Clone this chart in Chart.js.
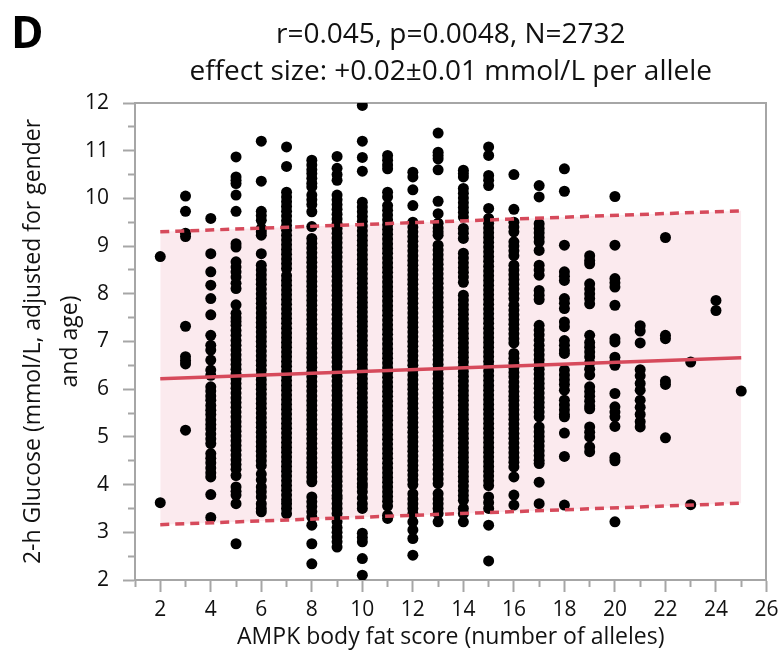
<!DOCTYPE html>
<html><head><meta charset="utf-8">
<script src="https://cdn.jsdelivr.net/npm/chart.js@4.4.1/dist/chart.umd.min.js"></script>
<style>html,body{margin:0;padding:0;background:#fff;}#wrap{width:784px;height:653px;position:relative;}</style>
</head><body><div id="wrap"><canvas id="c" width="784" height="653"></canvas></div>
<script>
// ---------- data ----------
const titleLines = ['r=0.045, p=0.0048, N=2732', 'effect size: +0.02\u00b10.01 mmol/L per allele'];
const panelLabel = 'D';
const xTitle = 'AMPK body fat score (number of alleles)';
const yTitle = ['2-h Glucose (mmol/L, adjusted for gender', 'and age)'];
const xTickLabels = [2,4,6,8,10,12,14,16,18,20,22,24,26];
const yTickLabels = [2,3,4,5,6,7,8,9,10,11,12];

const scores = [2,3,4,5,6,7,8,9,10,11,12,13,14,15,16,17,18,19,20,21,22,23,24,25];
const g2 = [8.78, 3.62];
const g3 = [10.05, 9.73, 9.27, 9.2, 7.32, 6.68, 6.6, 6.53, 5.14];
const g4 = [9.58, 8.84, 8.46, 8.18, 7.9, 7.56, 7.13, 6.92, 6.82, 6.61, 6.4, 6.29, 6.05, 5.96, 5.86, 5.77, 5.66, 5.56, 5.47, 5.36, 5.26, 5.17, 5.06, 4.96, 4.86, 4.65, 4.55, 4.46, 4.35, 4.25, 4.16, 3.79, 3.31];
const g5 = [10.87, 10.45, 10.38, 10.31, 10.07, 9.73, 9.05, 8.98, 8.67, 8.56, 8.46, 8.35, 8.22, 8.11, 7.77, 7.59, 7.5, 7.42, 7.34, 7.23, 7.13, 7.02, 6.92, 6.82, 6.72, 6.62, 6.52, 6.42, 6.32, 6.22, 6.12, 6.02, 5.92, 5.82, 5.72, 5.62, 5.52, 5.42, 5.32, 5.22, 5.12, 5.02, 4.92, 4.82, 4.72, 4.62, 4.52, 4.42, 4.32, 4.19, 3.95, 3.86, 3.78, 3.6, 2.76];
const g6 = [11.2, 10.36, 9.73, 9.64, 9.54, 9.37, 9.3, 9.23, 8.84, 8.6, 8.5, 8.4, 8.3, 8.2, 8.1, 8.0, 7.9, 7.8, 7.7, 7.6, 7.5, 7.4, 7.3, 7.2, 7.1, 7.0, 6.9, 6.8, 6.7, 6.6, 6.5, 6.4, 6.3, 6.2, 6.1, 6.0, 5.9, 5.8, 5.7, 5.6, 5.5, 5.4, 5.3, 5.2, 5.1, 5.0, 4.9, 4.8, 4.7, 4.6, 4.5, 4.4, 4.22, 4.1, 3.95, 3.85, 3.74, 3.6, 3.5, 3.43];
const g7 = [11.08, 10.67, 10.13, 10.03, 9.93, 9.83, 9.73, 9.63, 9.53, 9.43, 9.33, 9.23, 9.13, 9.03, 8.93, 8.83, 8.73, 8.63, 8.53, 8.38, 8.28, 8.18, 8.08, 7.98, 7.88, 7.78, 7.68, 7.58, 7.48, 7.38, 7.28, 7.18, 7.08, 6.98, 6.88, 6.78, 6.68, 6.58, 6.48, 6.38, 6.28, 6.18, 6.08, 5.98, 5.88, 5.78, 5.68, 5.58, 5.48, 5.38, 5.28, 5.18, 5.08, 4.98, 4.88, 4.78, 4.68, 4.58, 4.48, 4.38, 4.28, 4.18, 4.08, 3.98, 3.88, 3.78, 3.68, 3.6, 3.5, 3.39];
const g8 = [10.8, 10.7, 10.6, 10.52, 10.42, 10.32, 10.24, 10.07, 9.97, 9.87, 9.72, 9.41, 9.16, 9.06, 8.96, 8.86, 8.76, 8.66, 8.56, 8.46, 8.36, 8.26, 8.16, 8.06, 7.96, 7.86, 7.76, 7.66, 7.56, 7.46, 7.36, 7.26, 7.16, 7.06, 6.96, 6.86, 6.76, 6.66, 6.56, 6.46, 6.36, 6.26, 6.16, 6.06, 5.96, 5.86, 5.76, 5.66, 5.56, 5.46, 5.36, 5.26, 5.16, 5.06, 4.96, 4.86, 4.76, 4.66, 4.56, 4.46, 4.36, 4.26, 4.16, 4.06, 3.74, 3.64, 3.54, 3.43, 3.32, 3.15, 2.76, 2.34];
const g9 = [10.88, 10.63, 10.5, 10.38, 10.07, 9.97, 9.87, 9.77, 9.67, 9.57, 9.47, 9.37, 9.27, 9.17, 9.07, 8.97, 8.87, 8.77, 8.67, 8.57, 8.47, 8.37, 8.27, 8.17, 8.07, 7.97, 7.87, 7.77, 7.67, 7.57, 7.47, 7.37, 7.27, 7.17, 7.07, 6.97, 6.87, 6.77, 6.67, 6.57, 6.47, 6.37, 6.27, 6.17, 6.07, 5.97, 5.87, 5.77, 5.67, 5.57, 5.47, 5.37, 5.27, 5.17, 5.07, 4.97, 4.87, 4.77, 4.67, 4.57, 4.47, 4.37, 4.27, 4.17, 4.07, 3.97, 3.87, 3.77, 3.71, 3.6, 3.5, 3.39, 3.22, 3.1, 3.0, 2.9, 2.8, 2.69];
const g10 = [11.95, 11.2, 10.86, 10.57, 9.92, 9.82, 9.72, 9.62, 9.52, 9.42, 9.32, 9.22, 9.12, 9.02, 8.92, 8.82, 8.72, 8.62, 8.52, 8.42, 8.32, 8.22, 8.12, 8.02, 7.92, 7.82, 7.72, 7.62, 7.52, 7.42, 7.32, 7.22, 7.12, 7.02, 6.92, 6.82, 6.72, 6.62, 6.52, 6.42, 6.32, 6.22, 6.12, 6.02, 5.92, 5.82, 5.72, 5.62, 5.52, 5.42, 5.32, 5.22, 5.12, 5.02, 4.92, 4.82, 4.72, 4.62, 4.52, 4.42, 4.32, 4.22, 4.12, 4.02, 3.95, 3.85, 3.72, 3.6, 3.5, 2.98, 2.89, 2.8, 2.45, 2.1];
const g11 = [10.9, 10.8, 10.7, 10.62, 10.13, 10.03, 9.85, 9.75, 9.65, 9.55, 9.45, 9.35, 9.25, 9.15, 9.05, 8.95, 8.85, 8.75, 8.65, 8.55, 8.45, 8.35, 8.25, 8.15, 8.05, 7.95, 7.85, 7.75, 7.65, 7.55, 7.45, 7.35, 7.25, 7.15, 7.05, 6.95, 6.85, 6.75, 6.65, 6.55, 6.45, 6.35, 6.25, 6.15, 6.05, 5.95, 5.85, 5.75, 5.65, 5.55, 5.45, 5.35, 5.25, 5.15, 5.05, 4.95, 4.85, 4.75, 4.65, 4.55, 4.45, 4.35, 4.25, 4.15, 4.05, 3.95, 3.85, 3.75, 3.65, 3.55, 3.36, 3.29];
const g12 = [10.55, 10.45, 10.18, 9.85, 9.5, 9.4, 9.3, 9.2, 9.1, 9.0, 8.9, 8.8, 8.7, 8.6, 8.5, 8.4, 8.3, 8.2, 8.1, 8.0, 7.9, 7.8, 7.7, 7.6, 7.5, 7.4, 7.3, 7.2, 7.1, 7.0, 6.9, 6.8, 6.7, 6.6, 6.5, 6.4, 6.3, 6.2, 6.1, 6.0, 5.9, 5.8, 5.7, 5.6, 5.5, 5.4, 5.3, 5.2, 5.1, 5.0, 4.9, 4.8, 4.7, 4.6, 4.5, 4.4, 4.3, 4.2, 4.1, 4.0, 3.81, 3.7, 3.6, 3.5, 3.39, 3.22, 3.05, 2.87, 2.52];
const g13 = [11.37, 10.97, 10.9, 10.83, 10.6, 9.94, 9.68, 9.48, 9.38, 9.3, 9.23, 9.02, 8.92, 8.82, 8.72, 8.62, 8.52, 8.42, 8.32, 8.22, 8.12, 8.02, 7.92, 7.82, 7.72, 7.62, 7.52, 7.42, 7.32, 7.22, 7.12, 7.02, 6.92, 6.82, 6.72, 6.62, 6.52, 6.42, 6.32, 6.22, 6.12, 6.02, 5.92, 5.82, 5.72, 5.62, 5.52, 5.42, 5.32, 5.22, 5.12, 5.02, 4.92, 4.82, 4.72, 4.62, 4.52, 4.42, 4.32, 4.22, 4.12, 4.02, 3.81, 3.7, 3.6, 3.5, 3.39, 3.22];
const g14 = [10.59, 10.52, 10.45, 10.21, 10.11, 10.01, 9.91, 9.81, 9.71, 9.61, 9.37, 9.27, 9.16, 8.85, 8.75, 8.65, 8.55, 8.45, 8.35, 8.24, 7.97, 7.87, 7.77, 7.67, 7.57, 7.47, 7.37, 7.27, 7.17, 7.07, 6.97, 6.87, 6.77, 6.67, 6.57, 6.47, 6.37, 6.27, 6.17, 6.07, 5.97, 5.87, 5.77, 5.67, 5.57, 5.47, 5.37, 5.27, 5.17, 5.07, 4.97, 4.87, 4.77, 4.67, 4.57, 4.47, 4.37, 4.27, 4.17, 4.07, 3.97, 3.87, 3.77, 3.67, 3.5, 3.39, 3.22];
const g15 = [11.08, 10.9, 10.48, 10.38, 10.27, 9.79, 9.58, 9.48, 9.38, 9.28, 9.18, 9.08, 8.98, 8.88, 8.78, 8.68, 8.58, 8.48, 8.38, 8.28, 8.18, 8.08, 7.98, 7.88, 7.78, 7.68, 7.58, 7.48, 7.38, 7.28, 7.18, 7.08, 6.98, 6.88, 6.78, 6.68, 6.58, 6.48, 6.38, 6.28, 6.18, 6.08, 5.98, 5.88, 5.78, 5.68, 5.58, 5.48, 5.38, 5.28, 5.18, 5.08, 4.98, 4.88, 4.78, 4.68, 4.58, 4.48, 4.38, 4.28, 4.18, 4.08, 3.98, 3.74, 3.62, 3.5, 3.15, 2.4];
const g16 = [10.5, 9.77, 9.5, 9.4, 9.3, 9.09, 9.0, 8.9, 8.8, 8.6, 8.5, 8.4, 8.3, 8.2, 8.1, 8.0, 7.9, 7.76, 7.66, 7.56, 7.46, 7.36, 7.26, 7.16, 7.06, 6.97, 6.75, 6.65, 6.55, 6.45, 6.35, 6.26, 6.15, 6.05, 5.95, 5.85, 5.77, 5.67, 5.57, 5.47, 5.37, 5.27, 5.17, 5.07, 4.97, 4.87, 4.77, 4.67, 4.57, 4.47, 4.37, 4.16, 3.78, 3.57];
const g17 = [10.27, 10.03, 9.47, 9.37, 9.28, 9.18, 9.09, 8.91, 8.6, 8.5, 8.39, 8.07, 7.97, 7.88, 7.34, 7.24, 7.14, 7.03, 6.92, 6.82, 6.72, 6.62, 6.52, 6.42, 6.32, 6.22, 6.12, 6.02, 5.92, 5.82, 5.72, 5.62, 5.52, 5.42, 5.21, 5.11, 5.01, 4.91, 4.81, 4.71, 4.61, 4.51, 4.44, 4.05, 3.6];
const g18 = [10.62, 10.15, 9.02, 8.46, 8.37, 8.28, 7.9, 7.8, 7.69, 7.41, 7.31, 7.02, 6.92, 6.82, 6.75, 6.4, 6.3, 6.2, 6.1, 5.98, 5.77, 5.67, 5.57, 5.47, 5.42, 5.08, 4.59, 3.57];
const g19 = [8.8, 8.7, 8.63, 8.21, 8.1, 8.0, 7.9, 7.79, 7.13, 6.98, 6.88, 6.78, 6.68, 6.55, 6.42, 6.3, 6.05, 5.95, 5.85, 5.75, 5.65, 5.59, 5.21, 5.1, 5.0, 4.79, 4.69];
const g20 = [10.04, 9.02, 8.32, 8.23, 8.14, 7.76, 7.06, 6.99, 6.67, 6.58, 6.5, 5.91, 5.63, 5.52, 5.42, 5.22, 4.57, 4.5, 3.22];
const g21 = [7.33, 7.22, 6.97, 6.41, 6.28, 6.12, 5.98, 5.77, 5.62, 5.47, 5.32, 5.21];
const g22 = [9.18, 7.13, 7.06, 6.17, 6.1, 4.98];
const g23 = [6.57, 3.58];
const g24 = [7.86, 7.65];
const g25 = [5.96];
const glucoseByScore = [g2,g3,g4,g5,g6,g7,g8,g9,g10,g11,g12,g13,g14,g15,g16,g17,g18,g19,g20,g21,g22,g23,g24,g25];

// regression line and its prediction band (endpoints at scores 2 and 25)
const fitX = [2, 25];
const fitMean = [6.22, 6.66];
const fitUpper = [9.30, 9.74];
const fitLower = [3.16, 3.61];

// ---------- chart ----------
const FONT = "'Open Sans', 'Noto Sans', sans-serif";
const GRAY = '#a6a6a6';
const RED = '#d64a5b';
const BAND = '#fbeaee';
const TXT = '#111';

const points = [];
scores.forEach((s, i) => glucoseByScore[i].forEach(v => points.push({x: s, y: v})));
const toXY = arr => fitX.map((x, i) => ({x: x, y: arr[i]}));

const panelLetter = {
  id: 'panelLetter',
  afterDraw(chart) {
    const c = chart.ctx;
    c.save();
    c.font = "bold 44px " + FONT;
    c.fillStyle = '#000';
    c.textBaseline = 'alphabetic';
    c.textAlign = 'left';
    c.fillText(panelLabel, 11, 48);
    c.restore();
  }
};

new Chart(document.getElementById('c'), {
  type: 'scatter',
  data: {
    datasets: [
      { type: 'line', label: 'upper', data: toXY(fitUpper), borderColor: RED, borderWidth: 3.5, borderDash: [9, 6],
        pointRadius: 0, fill: 1, backgroundColor: BAND, order: 1, tension: 0 },
      { type: 'line', label: 'lower', data: toXY(fitLower), borderColor: RED, borderWidth: 3.5, borderDash: [9, 6],
        pointRadius: 0, fill: false, order: 1, tension: 0 },
      { type: 'line', label: 'fit', data: toXY(fitMean), borderColor: RED, borderWidth: 3.5,
        pointRadius: 0, fill: false, order: 0, tension: 0 },
      { type: 'scatter', label: 'subjects', data: points, pointRadius: 5.5, pointHoverRadius: 5.5,
        backgroundColor: '#000', borderWidth: 0, order: 5 }
    ]
  },
  options: {
    responsive: false,
    animation: false,
    layout: { padding: { left: 0, right: 11, top: 0, bottom: 0 } },
    plugins: {
      legend: { display: false },
      tooltip: { enabled: false },
      filler: { drawTime: 'beforeDatasetsDraw' },
      title: {
        display: true, fullSize: false, text: titleLines, color: TXT,
        font: { family: FONT, size: 28, weight: 'normal', lineHeight: 37.4/28 },
        padding: { top: 16, bottom: 12.2 }
      }
    },
    scales: {
      x: {
        type: 'linear', position: 'bottom', min: 1, max: 26,
        ticks: {
          stepSize: 1, autoSkip: false, maxRotation: 0, minRotation: 0,
          color: TXT, font: { family: FONT, size: 21 }, padding: 5.5,
          callback: v => xTickLabels.includes(v) ? String(v) : ''
        },
        grid: {
          drawOnChartArea: false, tickLength: 12, tickWidth: 2, tickColor: GRAY,
          tickBorderDash: ctx => (ctx.tick && xTickLabels.includes(ctx.tick.value)) ? [] : [6, 100]
        },
        border: { color: GRAY, width: 2 },
        title: { display: true, text: xTitle, color: TXT, font: { family: FONT, size: 23, lineHeight: 1.25 }, padding: { top: 0, bottom: 1.6 } },
        afterFit: s => { s.height = 73; }
      },
      y: {
        type: 'linear', position: 'left', min: 2, max: 12,
        ticks: {
          stepSize: 0.5, autoSkip: false, color: TXT, font: { family: FONT, size: 21 }, padding: 14,
          callback: v => yTickLabels.includes(v) ? String(v) : ''
        },
        grid: {
          drawOnChartArea: false, tickLength: 12, tickWidth: 2, tickColor: GRAY,
          tickBorderDash: ctx => (ctx.tick && yTickLabels.includes(ctx.tick.value)) ? [] : [0, 5, 6, 100]
        },
        border: { color: GRAY, width: 2 },
        title: { display: true, text: yTitle, color: TXT, font: { family: FONT, size: 23, lineHeight: 37/23 }, padding: { top: 14.5, bottom: 0 } },
        afterFit: s => { s.width = 135; }
      },
      xTop: {
        type: 'linear', position: 'top', min: 1, max: 26,
        ticks: { display: false }, grid: { drawOnChartArea: false, drawTicks: false },
        border: { color: GRAY, width: 2 },
        afterFit: s => { s.height = 0; }
      },
      yRight: {
        type: 'linear', position: 'right', min: 2, max: 12,
        ticks: { display: false }, grid: { drawOnChartArea: false, drawTicks: false },
        border: { color: GRAY, width: 2 },
        afterFit: s => { s.width = 0; }
      }
    }
  },
  plugins: [panelLetter]
});
</script>
</body></html>
